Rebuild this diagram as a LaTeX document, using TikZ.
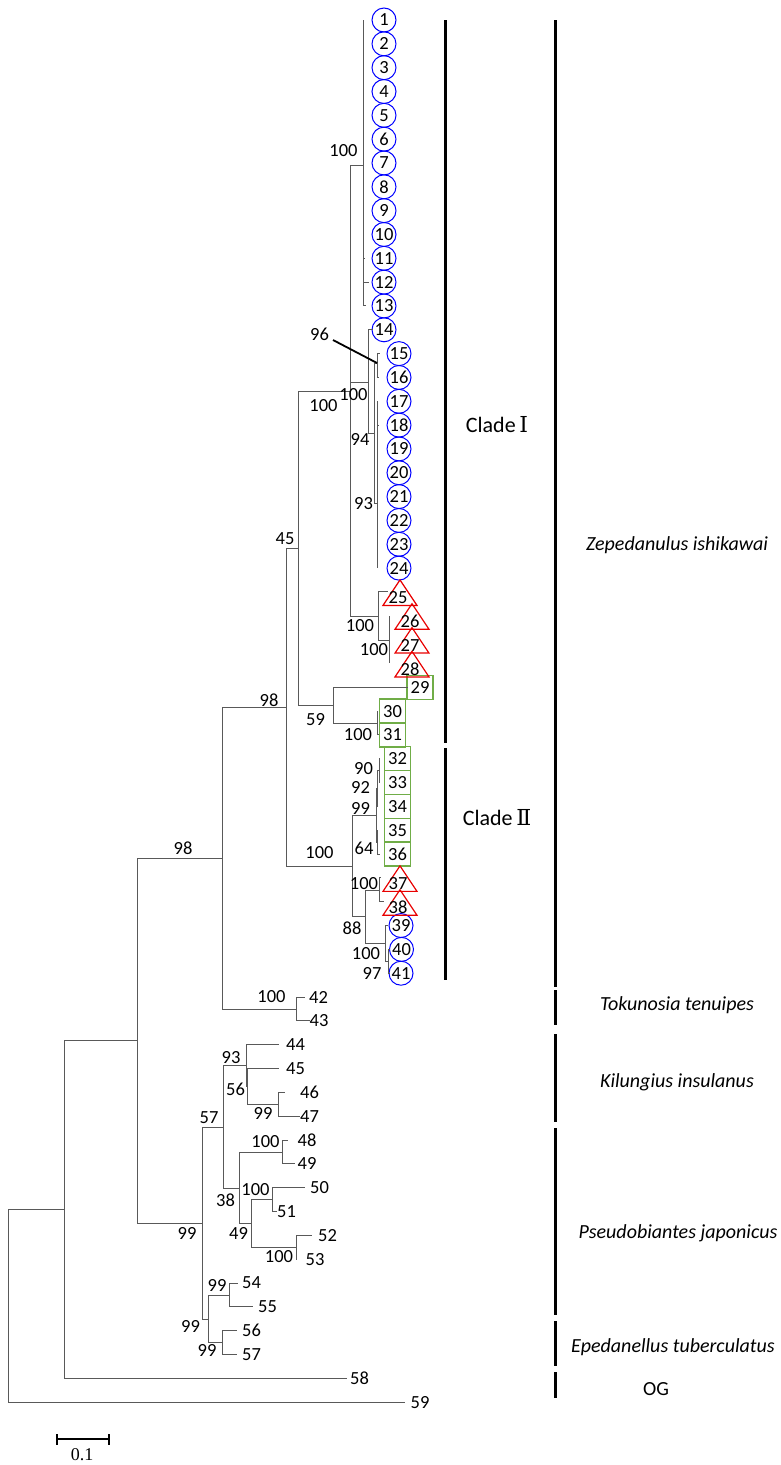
\documentclass[tikz,border=0pt]{standalone}
\usepackage{fontspec}
\setmainfont{Carlito}
\newfontfamily\timesfont{Liberation Serif}
\newfontfamily\numeralfont{DejaVu Serif}
\usepackage{tikz}
\usetikzlibrary{positioning}
\definecolor{leafblue}{RGB}{0,0,255}
\definecolor{leafred}{RGB}{232,0,0}
\definecolor{leafgreen}{RGB}{112,173,71}
\tikzset{branch/.style={draw=black!65,line width=1pt}}
\tikzset{boot/.style={inner sep=0pt,font=\fontsize{18.5}{20}\selectfont}}
\tikzset{ringstyle/.style={circle,draw=leafblue,line width=1pt,minimum size=24,inner sep=0pt,font=\fontsize{18.5}{20}\selectfont}}
\tikzset{boxstyle/.style={rectangle,draw=leafgreen,line width=1.2pt,minimum width=26,minimum height=24,inner sep=0pt,font=\fontsize{18.5}{20}\selectfont}}
\tikzset{tristyle/.style={draw=leafred,line width=1.2pt}}
\tikzset{bracket/.style={line width=3pt}}
\tikzset{species/.style={inner sep=0pt,font=\fontsize{20}{22}\selectfont\itshape}}

\begin{document}
\begin{tikzpicture}[x=1pt,y=-1pt]
        \useasboundingbox (0,0) rectangle (780,1465);

        % Leaf markers
        \foreach \i/\x in {1/384,2/384,3/384,4/384,5/384,6/384,7/384,8/384,9/384,10/384,11/384,12/384,13/384,14/384,
                           15/399,16/399,17/399,18/399,19/399,20/399,21/399,22/399,23/399,24/399,39/401,40/401.5,41/401}
        {
            \pgfmathsetmacro{\y}{20+(\i-1)*23.83}
            \node[ringstyle] (\i) at (\x,\y) {\i};
        }
        \foreach \i/\x in {29/420,30/392.5,31/392.5,32/397.5,33/397.5,34/397.5,35/397.5,36/397.5}
        {
            \pgfmathsetmacro{\y}{20+(\i-1)*23.83}
            \node[boxstyle] (\i) at (\x,\y) {\i};
        }
        \foreach \i/\x in {25/400,26/412,27/412,28/412,37/400,38/400}
        {
            \pgfmathsetmacro{\y}{20+(\i-1)*23.83}
            \draw[tristyle] (\x-17,\y+13.5) -- (\x,\y-12) -- (\x+17,\y+13.5) -- cycle;
            \node[boot] (\i) at (\x-2,\y+6) {\i};
        }
        \foreach \i/\x in {42/318.5,43/319,44/295.5,45/295.5,46/309.5,47/309.5,48/307,49/307,50/319.5,
                           51/286.5,52/327.5,53/315,54/251.5,55/267.5,56/251.5,57/251.5,58/359.5,59/420}
        {
            \pgfmathsetmacro{\y}{20+(\i-1)*23.83}
            \node[boot] (\i) at (\x,\y) {\i};
        }

        % Branch tips
        \foreach \i/\x in {1/363,2/363,3/363,4/363,5/363,6/363,7/363,8/363,9/363,10/363,11/365,12/369,13/366,
                           14/373,15/380,16/379,17/377,18/379,19/377,20/377,21/377,22/377,23/377,24/377,
                           25/388,26/389,27/389,28/389,29/408,30/377,31/379,32/380,33/380,34/378,35/378,36/380,
                           37/381,38/384,39/388,40/390,41/390,42/305,43/310,44/279,45/279,46/285,47/300,
                           48/288,49/295,50/305,51/277,52/312,53/297,54/238,55/253,56/237,57/237,58/347,59/405}
        {
            \pgfmathsetmacro{\y}{20+(\i-1)*23.83}
            \coordinate (t\i) at (\x,\y);
        }

        % Inner nodes
        \foreach \n/\x/\y in {root/8/1306,nz/64/1209,nm/137/1040,nk/222/858,nl/296/1009,nd/286/707,
                              nc/298/548,n2/350/391,n1/363/165,n3/368/382,n5/374/433,n6/377/363,n7/377/503,
                              n4/378/616,n8/389/640,n9/333/705,n10/377/723,ne/352/866,nf/376/815,
                              n92/377/788,n90/379/770.5,n64/377/842,ng/365/916.5,nh/379/890,ni/385/943.4,
                              nj/388/961.3,nn/202/1223,np/223/1127,nr/246/1065.5,n56/247/1086.4,
                              n99/278/1104.2,ns/239/1188,nt/282/1152,nu/251/1223.5,nv/272/1199.6,
                              nw/296/1247.3,nq/208/1319,nx/229/1295,ny/222/1342.6}
            \coordinate (\n) at (\x,\y);

        % Branches
        \foreach \p/\c in {root/nz,root/t59,nz/nm,nz/t58,nm/nk,nm/nn,nk/nd,nk/nl,nl/t42,nl/t43,
                           nd/nc,nd/ne,nc/n2,nc/n9,n2/n1,n2/n3,n2/n4,n3/t14,n3/n5,n5/n6,n5/n7,
                           n6/t15,n6/t16,n4/t25,n4/n8,n8/t26,n8/t27,n8/t28,n9/t29,n9/n10,n10/t30,n10/t31,
                           ne/nf,ne/ng,nf/n92,nf/n64,n92/n90,n92/t34,n90/t32,n90/t33,n64/t35,n64/t36,
                           ng/nh,ng/ni,nh/t37,nh/t38,ni/t39,ni/nj,nj/t40,nj/t41,
                           nn/np,nn/nq,np/nr,np/ns,nr/t44,nr/n56,n56/t45,n56/n99,n99/t46,n99/t47,
                           ns/nt,ns/nu,nt/t48,nt/t49,nu/nv,nu/nw,nv/t50,nv/t51,nw/t52,nw/t53,
                           nq/nx,nq/ny,nx/t54,nx/t55,ny/t56,ny/t57}
            \draw[branch] (\p) |- (\c);
        \foreach \i in {1,...,13}
            \draw[branch] (n1) |- (t\i);
        \foreach \i in {17,...,24}
            \draw[branch] (n7) |- (t\i);

        % Bootstrap values
        \foreach \n/\v/\x/\y in {n1/100/343.5/151,n2/100/323.5/406,n3/100/353.5/394.5,n5/94/360/439,
                                 n7/93/363.5/503.5,n6/96/319.5/334,nc/45/285/538.5,n4/100/360/625.5,
                                 n8/100/374/649.5,n9/59/315.5/720,n10/100/358/735,nd/98/269/700,
                                 ne/100/319.5/852.5,n90/90/363.5/768.5,n92/92/360.5/787,nf/99/360.5/808.5,
                                 n64/64/364/848.5,nh/100/364/883.5,ng/88/352/928.5,ni/100/366/953.5,
                                 nj/97/372/973.5,nk/98/183/848.5,nl/100/271.5/996.5,nr/93/231/1058,
                                 n56/56/235.5/1089,n99/99/263/1113.5,np/57/209/1117.5,nt/100/265.5/1141.5,
                                 ns/38/225.5/1200.5,nv/100/255.5/1190,nn/99/187/1233.5,nu/49/238.5/1233.5,
                                 nw/100/279/1256.5,nx/99/217/1285,nq/99/190.5/1326.5,ny/99/207/1350}
            \node[boot] (b\n) at (\x,\y) {\v};
        \coordinate (p96) at (333,340);
        \draw[line width=1.8pt] (p96) -- (n6);

        % Clade bars
        \draw[bracket] (445,20) -- (445,743);
        \draw[bracket] (445,748) -- (445,980);
        \draw[bracket] (555,20) -- (555,987);
        \draw[bracket] (555,990) -- (555,1025);
        \draw[bracket] (555,1034) -- (555,1122);
        \draw[bracket] (555,1128) -- (555,1315);
        \draw[bracket] (555,1321) -- (555,1366);
        \draw[bracket] (555,1372) -- (555,1398);

        \node[inner sep=0pt,font=\fontsize{22}{24}\selectfont] (cladeI) at (497,425) {Clade\,{\numeralfont Ⅰ}};
        \node[inner sep=0pt,font=\fontsize{22}{24}\selectfont] (cladeII) at (497,818) {Clade\,{\numeralfont Ⅱ}};
        \node[species] (zep) at (677,545) {Zepedanulus ishikawai};
        \node[species] (tok) at (677,1005) {Tokunosia tenuipes};
        \node[species] (kil) at (677,1082) {Kilungius insulanus};
        \node[species] (pse) at (678,1233) {Pseudobiantes japonicus};
        \node[species] (epe) at (673,1347) {Epedanellus tuberculatus};
        \node[inner sep=0pt,font=\fontsize{20}{22}\selectfont] (og) at (656,1389) {OG};

        % Scale bar
        \coordinate (sl) at (57,1439);
        \coordinate (sr) at (109,1439);
        \draw[line width=2.5pt] (sl) -- (sr);
        \draw[line width=2pt] (57,1434) -- (57,1445);
        \draw[line width=2pt] (109,1434) -- (109,1445);
        \node[inner sep=0pt,font=\fontsize{18}{20}\timesfont] (scale) at (82,1455) {0.1};
\end{tikzpicture}
\end{document}
